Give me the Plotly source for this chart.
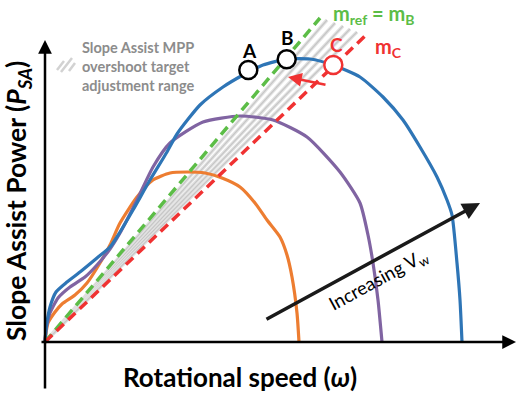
import plotly.graph_objects as go

# ---- data (schematic units: omega horizontal, P_SA vertical) ----
blue_w = [0, 1, 2, 5, 11, 22, 35, 52, 65, 75, 88, 105, 122, 132, 155, 178, 198, 218, 242, 265, 288, 315, 338, 358, 375, 392, 402, 407, 412, 415, 417]
blue_p = [0, 12, 20, 35, 50, 60, 70, 84, 95, 110, 132, 162, 190, 208, 237, 255, 267, 277, 283, 283, 277, 265, 245, 222, 195, 165, 142, 127, 79, 42, 0]

purple_w = [0, 1, 3, 5, 13, 25, 40, 52, 65, 75, 92, 108, 125, 158, 195, 228, 262, 295, 315, 323, 328, 333, 337]
purple_p = [0, 12, 22, 29, 44, 55, 65, 77, 93, 109, 142, 175, 199, 220, 226, 222, 205, 170, 139, 107, 79, 42, 0]

orange_w = [0, 1, 3, 10, 17, 30, 42, 55, 65, 75, 92, 108, 125, 142, 160, 177, 195, 210, 222, 235, 242, 247, 252, 254]
orange_p = [0, 9, 19, 30, 38, 47, 59, 79, 97, 119, 145, 162, 169, 170, 169, 164, 155, 139, 122, 105, 87, 65, 29, 0]

green_w = [0, 275]
green_p = [0, 324]
red_w = [0, 320]
red_p = [0, 306]

gray_end_w = [282, 290, 298, 305, 312]
gray_end_p = [322, 319, 316, 313, 310]

points_name = ["A", "B", "C"]
points_w = [203.3, 241.7, 288.3]
points_p = [272, 282.7, 277]

BLUE = "#2e75b6"
PURPLE = "#8064a2"
ORANGE = "#ed7d31"
GREEN = "#5cbd47"
RED = "#f03232"
GRAY = "#8c8c8c"

fig = go.Figure()

# gray hatched band
for gw, gp in zip(gray_end_w, gray_end_p):
    fig.add_trace(go.Scatter(x=[0, gw], y=[0, gp], mode="lines",
                             line=dict(color="#e2e2e2", width=3.5), hoverinfo="skip"))
    fig.add_trace(go.Scatter(x=[0, gw], y=[0, gp], mode="lines",
                             line=dict(color="#c6c6c6", width=1.2), hoverinfo="skip"))

# power curves
for xs, ys, c in [(orange_w, orange_p, ORANGE), (purple_w, purple_p, PURPLE), (blue_w, blue_p, BLUE)]:
    fig.add_trace(go.Scatter(x=xs, y=ys, mode="lines",
                             line=dict(color=c, width=3.2, shape="spline", smoothing=0.6),
                             hoverinfo="skip"))

# dashed slope lines
fig.add_trace(go.Scatter(x=green_w, y=green_p, mode="lines",
                         line=dict(color=GREEN, width=3.5, dash="10px,6px")))
fig.add_trace(go.Scatter(x=red_w, y=red_p, mode="lines",
                         line=dict(color=RED, width=3.5, dash="10px,6px")))

# operating points
fig.add_trace(go.Scatter(x=points_w, y=points_p, mode="markers",
                         marker=dict(size=18, color="white",
                                     line=dict(color=["black", "black", RED], width=2.5))))

# legend hatch icon
for (x0, y0, x1, y1) in [(12, 272, 19, 281), (16, 270, 27, 284), (24, 271, 30, 279)]:
    fig.add_trace(go.Scatter(x=[x0, x1], y=[y0, y1], mode="lines",
                             line=dict(color="#d2d2d2", width=2.5), hoverinfo="skip"))

ann = []
# axes arrows
ann.append(dict(x=0, y=302, ax=0, ay=-48, xref="x", yref="y", axref="x", ayref="y",
                text="", showarrow=True, arrowhead=2, arrowsize=1.1, arrowwidth=2.5, arrowcolor="black"))
ann.append(dict(x=471, y=0, ax=-5, ay=0, xref="x", yref="y", axref="x", ayref="y",
                text="", showarrow=True, arrowhead=2, arrowsize=1.1, arrowwidth=2.5, arrowcolor="black"))
# increasing arrow
ann.append(dict(x=435, y=139, ax=220, ay=22, xref="x", yref="y", axref="x", ayref="y",
                text="", showarrow=True, arrowhead=2, arrowsize=1.0, arrowwidth=3.5, arrowcolor="#1a1a1a"))
# red shift arrow
ann.append(dict(x=243, y=265, ax=282, ay=257, xref="x", yref="y", axref="x", ayref="y",
                text="", showarrow=True, arrowhead=2, arrowsize=1.1, arrowwidth=2.5, arrowcolor=RED))

FONT = "Lato"
ann.append(dict(x=195, y=-35, xref="x", yref="y", showarrow=False,
                text="<b>Rotational speed (<i>ω</i>)</b>",
                font=dict(family=FONT, size=26, color="black")))
ann.append(dict(x=-27, y=141, xref="x", yref="y", showarrow=False, textangle=-90,
                text="<b>Slope Assist Power (<i>P</i><sub><i>SA</i></sub>)</b>",
                font=dict(family=FONT, size=26.5, color="black")))
ann.append(dict(x=35, y=276, xref="x", yref="y", showarrow=False, xanchor="left", align="left",
                text="<b>Slope Assist MPP<br>overshoot target<br>adjustment range</b>",
                font=dict(family=FONT, size=14.5, color=GRAY)))
for name, xw, yp, c in [("A", 204, 292, "black"), ("B", 242, 305, "black"), ("C", 291, 298, RED)]:
    ann.append(dict(x=xw, y=yp, xref="x", yref="y", showarrow=False,
                    text="<b>%s</b>" % name, font=dict(family=FONT, size=19, color=c)))
ann.append(dict(x=328, y=328, xref="x", yref="y", showarrow=False,
                text="<b>m<sub>ref</sub> = m<sub>B</sub></b>",
                font=dict(family=FONT, size=20, color=GREEN)))
ann.append(dict(x=343, y=295, xref="x", yref="y", showarrow=False,
                text="<b>m<sub>C</sub></b>",
                font=dict(family=FONT, size=20, color=RED)))
ann.append(dict(x=333, y=62, xref="x", yref="y", showarrow=False, textangle=-28.5,
                text="Increasing V<sub>w</sub>",
                font=dict(family=FONT, size=18.5, color="black")))

fig.update_layout(
    width=517, height=399, margin=dict(l=0, r=0, t=0, b=0),
    paper_bgcolor="white", plot_bgcolor="white", showlegend=False,
    xaxis=dict(range=[-45, 472], visible=False, fixedrange=True),
    yaxis=dict(range=[-57, 342], visible=False, fixedrange=True),
    annotations=ann,
)

fig.write_html("out.html")
